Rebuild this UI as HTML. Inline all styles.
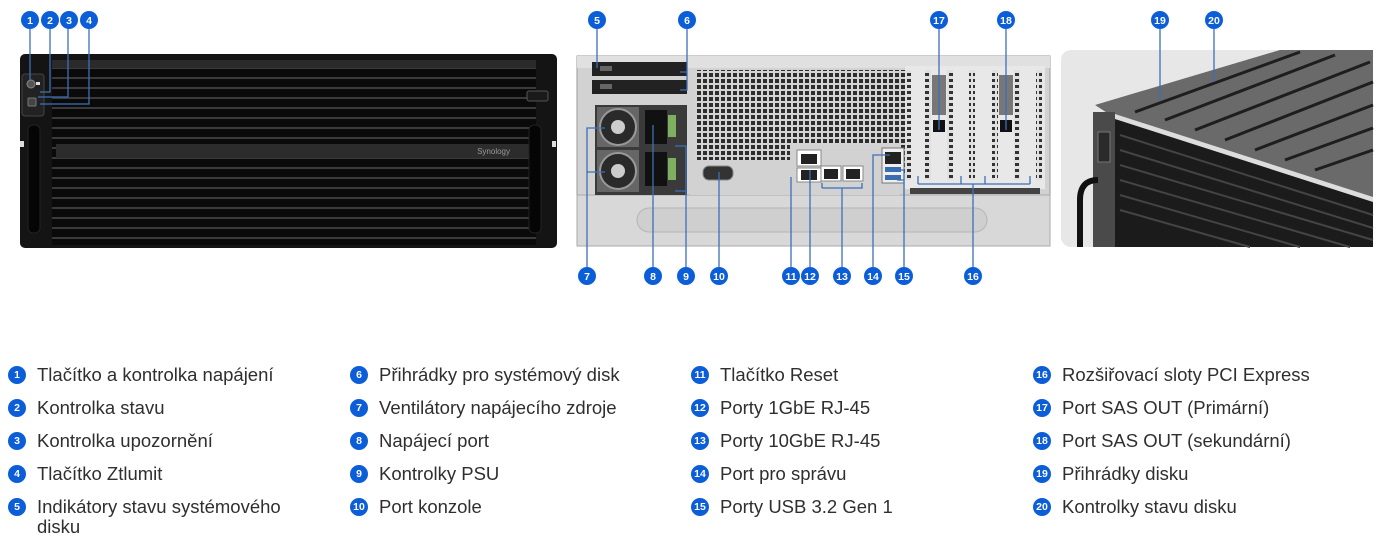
<!DOCTYPE html>
<html><head><meta charset="utf-8">
<style>
html,body{margin:0;padding:0;background:#fff;}
body{width:1376px;height:544px;overflow:hidden;position:relative;font-family:"Liberation Sans",sans-serif;}
svg{position:absolute;left:0;top:0;}
.leg{position:absolute;font-size:18.5px;color:#2f2f2f;line-height:20px;}
.b{position:absolute;width:18px;height:18px;border-radius:50%;background:#0b5ed7;color:#fff;font-size:10.5px;font-weight:bold;text-align:center;line-height:18px;}
</style></head><body>
<svg width="1376" height="544" viewBox="0 0 1376 544">
<defs>
<pattern id="grid" width="6" height="6" patternUnits="userSpaceOnUse">
<rect width="6" height="6" fill="#d4d4d4"/><rect x="1" y="1" width="4" height="4" fill="#2e2e2e"/>
</pattern>
<pattern id="perf" width="6" height="6" patternUnits="userSpaceOnUse">
<rect width="6" height="6" fill="#e0e0e0"/><rect x="1" y="1" width="4" height="3" fill="#333"/>
</pattern>
<pattern id="slat" width="10" height="10" patternUnits="userSpaceOnUse">
<rect width="10" height="10" fill="#0a0a0a"/><rect y="7" width="10" height="2" fill="#3a3a3a"/>
</pattern>
</defs>
<!-- FRONT -->
<rect x="20" y="54" width="537" height="194" rx="5" fill="#141414"/>
<rect x="52" y="60" width="484" height="185" fill="url(#slat)"/>
<rect x="52" y="60" width="484" height="8" fill="#2a2a2a"/>
<rect x="56" y="144" width="480" height="14" fill="#2c2c2c"/>
<text x="510" y="154" font-size="8" fill="#999" text-anchor="end">Synology</text>
<rect x="22" y="74" width="22" height="42" rx="3" fill="#222" stroke="#444"/>
<circle cx="31" cy="84" r="4" fill="#555" stroke="#888"/>
<rect x="36" y="82" width="4" height="3" fill="#ddd"/>
<rect x="28" y="98" width="8" height="8" rx="1" fill="#444" stroke="#777"/>
<rect x="28" y="125" width="12" height="108" rx="5" fill="#050505" stroke="#222"/>
<rect x="529" y="125" width="12" height="108" rx="5" fill="#050505" stroke="#222"/>
<rect x="527" y="91" width="21" height="10" rx="2" fill="#1a1a1a" stroke="#555"/>
<rect x="20" y="141" width="4" height="6" fill="#ddd"/>
<rect x="552" y="141" width="4" height="6" fill="#ddd"/>
<!-- REAR -->
<rect x="577" y="56" width="473" height="190" fill="#d2d2d2" stroke="#9a9a9a"/>
<rect x="577" y="56" width="473" height="12" fill="#e0e0e0"/>
<rect x="577" y="195" width="473" height="51" fill="#d8d8d8" stroke="#aaa"/>
<rect x="637" y="208" width="350" height="24" rx="12" fill="#cfcfcf" stroke="#b5b5b5"/>
<rect x="592" y="62" width="95" height="14" fill="#222"/>
<rect x="592" y="80" width="95" height="14" fill="#222"/>
<rect x="600" y="66" width="12" height="5" fill="#666"/><rect x="600" y="84" width="12" height="5" fill="#666"/>
<rect x="595" y="105" width="92" height="90" fill="#3a3a3a"/>
<rect x="597" y="107" width="42" height="40" fill="#666"/>
<circle cx="618" cy="127" r="18" fill="#2a2a2a" stroke="#999" stroke-width="2"/>
<circle cx="618" cy="127" r="7" fill="#ccc"/>
<rect x="597" y="150" width="42" height="42" fill="#666"/>
<circle cx="618" cy="171" r="18" fill="#2a2a2a" stroke="#999" stroke-width="2"/>
<circle cx="618" cy="171" r="7" fill="#ccc"/>
<rect x="645" y="110" width="22" height="34" fill="#111"/>
<rect x="645" y="152" width="22" height="34" fill="#111"/>
<rect x="668" y="115" width="8" height="22" fill="#7fb060"/>
<rect x="668" y="158" width="8" height="22" fill="#7fb060"/>
<rect x="695" y="70" width="210" height="105" fill="url(#grid)"/>
<rect x="690" y="160" width="100" height="35" fill="#d2d2d2"/>
<rect x="790" y="145" width="110" height="50" fill="#d2d2d2"/>
<rect x="703" y="166" width="30" height="14" rx="6" fill="#333" stroke="#888"/>
<rect x="797" y="150" width="24" height="16" fill="#fff" stroke="#888"/><rect x="801" y="154" width="16" height="10" fill="#222"/>
<rect x="797" y="168" width="24" height="14" fill="#fff" stroke="#888"/><rect x="801" y="170" width="16" height="10" fill="#222"/>
<rect x="821" y="166" width="20" height="15" fill="#fff" stroke="#888"/><rect x="824" y="169" width="14" height="10" fill="#222"/>
<rect x="843" y="166" width="20" height="15" fill="#fff" stroke="#888"/><rect x="846" y="169" width="14" height="10" fill="#222"/>
<rect x="882" y="148" width="22" height="35" fill="#eee" stroke="#777"/>
<rect x="885" y="152" width="16" height="12" fill="#222"/>
<rect x="885" y="167" width="16" height="5" fill="#3a6db0"/><rect x="885" y="175" width="16" height="5" fill="#3a6db0"/>
<rect x="905" y="66" width="140" height="123" fill="#e8e8e8"/>
<rect x="905" y="70" width="6" height="110" fill="url(#perf)"/>
<rect x="925" y="70" width="6" height="110" fill="url(#perf)"/>
<rect x="947" y="70" width="6" height="110" fill="url(#perf)"/>
<rect x="969" y="70" width="6" height="110" fill="url(#perf)"/>
<rect x="992" y="70" width="6" height="110" fill="url(#perf)"/>
<rect x="1014" y="70" width="6" height="110" fill="url(#perf)"/>
<rect x="1036" y="70" width="6" height="110" fill="url(#perf)"/>
<rect x="932" y="75" width="14" height="40" fill="#777"/><rect x="933" y="120" width="12" height="12" fill="#111"/>
<rect x="999" y="75" width="14" height="40" fill="#777"/><rect x="1000" y="120" width="12" height="12" fill="#111"/>
<rect x="910" y="188" width="130" height="6" fill="#444"/>
<!-- PERSPECTIVE -->
<rect x="1061" y="50" width="312" height="197" rx="10" fill="#e7e7e7"/>
<polygon points="1095,105 1280,50 1373,50 1373,198 1115,118" fill="#6a6a6a"/>
<g stroke="#1e1e1e" stroke-width="3">
<line x1="1135" y1="112" x2="1300" y2="52"/><line x1="1165" y1="120" x2="1335" y2="55"/>
<line x1="1195" y1="130" x2="1370" y2="62"/><line x1="1225" y1="140" x2="1373" y2="82"/>
<line x1="1255" y1="150" x2="1373" y2="105"/><line x1="1285" y1="160" x2="1373" y2="128"/>
<line x1="1315" y1="170" x2="1373" y2="150"/>
</g>
<polygon points="1115,115 1373,198 1373,247 1095,247 1095,118" fill="#1b1b1b"/>
<polygon points="1115,114 1373,197 1373,202 1115,119" fill="#ddd"/>
<g stroke="#444" stroke-width="2">
<line x1="1120" y1="135" x2="1373" y2="215"/><line x1="1120" y1="150" x2="1373" y2="228"/>
<line x1="1120" y1="165" x2="1373" y2="240"/><line x1="1120" y1="180" x2="1350" y2="247"/>
<line x1="1120" y1="195" x2="1300" y2="247"/><line x1="1120" y1="210" x2="1250" y2="247"/>
</g>
<rect x="1093" y="112" width="22" height="135" fill="#4a4a4a"/>
<rect x="1098" y="132" width="12" height="30" fill="#2a2a2a" stroke="#777"/>
<path d="M1098 180 Q1080 180 1080 200 L1080 247" stroke="#111" stroke-width="6" fill="none"/>
<!-- LEADERS -->
<g stroke="#3d6fb8" stroke-width="1.3" fill="none">
<path d="M30 29V80"/><path d="M50 29V92H40"/><path d="M68 29V97H38"/><path d="M89 29V104H40"/>
<path d="M597 29V68"/><path d="M687 29V90H680M687 72H680"/>
<path d="M939 29V130"/><path d="M1006 29V130"/>
<path d="M587 267V128H605M587 172H605"/><path d="M653 267V125"/>
<path d="M686 267V146H675M686 191H675"/><path d="M719 267V172"/>
<path d="M791 267V177"/><path d="M810 267V170"/>
<path d="M842 267V188M822 188H862V183M822 188V183"/>
<path d="M873 267V155H890"/><path d="M904 267V170H897M904 180H897"/>
<path d="M973 267V184M918 184H1030M918 184V176M961 184V176M985 184V176M1030 184V176"/>
<path d="M1160 29V100"/><path d="M1214 29V82"/>
</g>
<g font-family="Liberation Sans,sans-serif" font-size="10.5" font-weight="bold" fill="#fff" text-anchor="middle">
<g fill="#0b5ed7">
<circle cx="30" cy="20" r="9"/><circle cx="50" cy="20" r="9"/><circle cx="69" cy="20" r="9"/><circle cx="89" cy="20" r="9"/>
<circle cx="597" cy="20" r="9"/><circle cx="687" cy="20" r="9"/><circle cx="939" cy="20" r="9"/><circle cx="1006" cy="20" r="9"/>
<circle cx="1160" cy="20" r="9"/><circle cx="1214" cy="20" r="9"/>
<circle cx="587" cy="276" r="9"/><circle cx="653" cy="276" r="9"/><circle cx="686" cy="276" r="9"/><circle cx="719" cy="276" r="9"/>
<circle cx="791" cy="276" r="9"/><circle cx="810" cy="276" r="9"/><circle cx="842" cy="276" r="9"/><circle cx="873" cy="276" r="9"/>
<circle cx="904" cy="276" r="9"/><circle cx="973" cy="276" r="9"/>
</g>
<text x="30" y="24">1</text><text x="50" y="24">2</text><text x="69" y="24">3</text><text x="89" y="24">4</text>
<text x="597" y="24">5</text><text x="687" y="24">6</text><text x="939" y="24">17</text><text x="1006" y="24">18</text>
<text x="1160" y="24">19</text><text x="1214" y="24">20</text>
<text x="587" y="280">7</text><text x="653" y="280">8</text><text x="686" y="280">9</text><text x="719" y="280">10</text>
<text x="791" y="280">11</text><text x="810" y="280">12</text><text x="842" y="280">13</text><text x="873" y="280">14</text>
<text x="904" y="280">15</text><text x="973" y="280">16</text>
</g>
</svg>

<div class="b" style="left:8px;top:366px">1</div><div class="leg" style="left:37px;top:365px">Tlačítko a kontrolka napájení</div>
<div class="b" style="left:8px;top:399px">2</div><div class="leg" style="left:37px;top:398px">Kontrolka stavu</div>
<div class="b" style="left:8px;top:432px">3</div><div class="leg" style="left:37px;top:431px">Kontrolka upozornění</div>
<div class="b" style="left:8px;top:465px">4</div><div class="leg" style="left:37px;top:464px">Tlačítko Ztlumit</div>
<div class="b" style="left:8px;top:498px">5</div><div class="leg" style="left:37px;top:497px">Indikátory stavu systémového<br>disku</div>

<div class="b" style="left:350px;top:366px">6</div><div class="leg" style="left:379px;top:365px">Přihrádky pro systémový disk</div>
<div class="b" style="left:350px;top:399px">7</div><div class="leg" style="left:379px;top:398px">Ventilátory napájecího zdroje</div>
<div class="b" style="left:350px;top:432px">8</div><div class="leg" style="left:379px;top:431px">Napájecí port</div>
<div class="b" style="left:350px;top:465px">9</div><div class="leg" style="left:379px;top:464px">Kontrolky PSU</div>
<div class="b" style="left:350px;top:498px">10</div><div class="leg" style="left:379px;top:497px">Port konzole</div>

<div class="b" style="left:691px;top:366px">11</div><div class="leg" style="left:720px;top:365px">Tlačítko Reset</div>
<div class="b" style="left:691px;top:399px">12</div><div class="leg" style="left:720px;top:398px">Porty 1GbE RJ-45</div>
<div class="b" style="left:691px;top:432px">13</div><div class="leg" style="left:720px;top:431px">Porty 10GbE RJ-45</div>
<div class="b" style="left:691px;top:465px">14</div><div class="leg" style="left:720px;top:464px">Port pro správu</div>
<div class="b" style="left:691px;top:498px">15</div><div class="leg" style="left:720px;top:497px">Porty USB 3.2 Gen 1</div>

<div class="b" style="left:1033px;top:366px">16</div><div class="leg" style="left:1062px;top:365px">Rozšiřovací sloty PCI Express</div>
<div class="b" style="left:1033px;top:399px">17</div><div class="leg" style="left:1062px;top:398px">Port SAS OUT (Primární)</div>
<div class="b" style="left:1033px;top:432px">18</div><div class="leg" style="left:1062px;top:431px">Port SAS OUT (sekundární)</div>
<div class="b" style="left:1033px;top:465px">19</div><div class="leg" style="left:1062px;top:464px">Přihrádky disku</div>
<div class="b" style="left:1033px;top:498px">20</div><div class="leg" style="left:1062px;top:497px">Kontrolky stavu disku</div>
</body></html>
